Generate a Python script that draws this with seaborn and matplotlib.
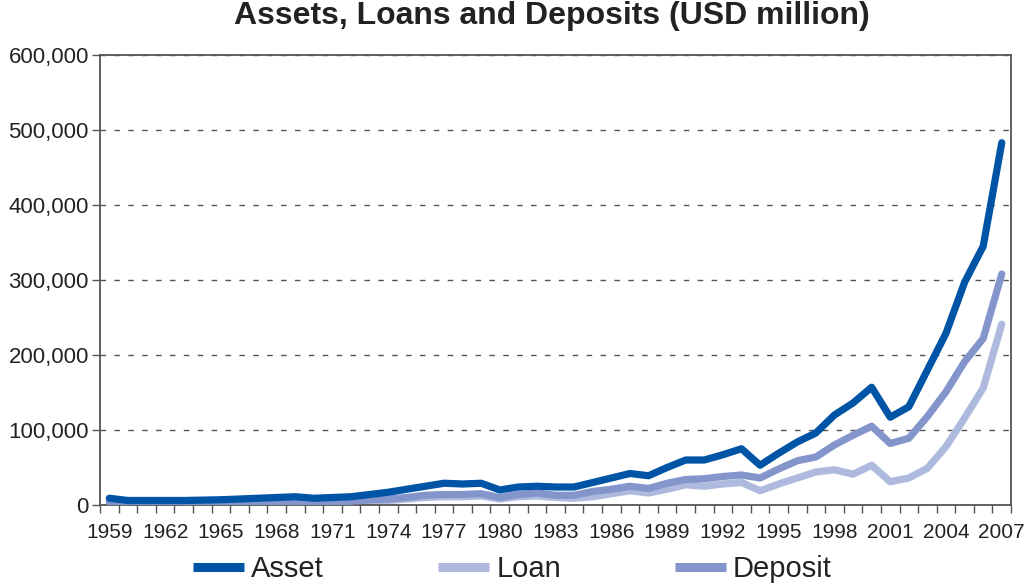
import matplotlib
matplotlib.use("Agg")
import matplotlib.pyplot as plt
import seaborn as sns
import pandas as pd
from matplotlib.ticker import FuncFormatter, FixedLocator

years = list(range(1959, 2008))

asset = [9000, 6000, 6000, 6000, 6000, 6500, 7000, 8000, 9000, 10000,
         11000, 9000, 10000, 11000, 14000, 17000, 21000, 25000, 29000, 28000,
         29000, 20000, 24000, 25000, 24000, 24000, 30000, 36000, 42000, 39000,
         50000, 60000, 60000, 67000, 75000, 53000, 69000, 84000, 96000, 120000,
         136000, 157000, 117000, 131000, 180000, 229000, 297000, 345000, 483000]

loan = [2000, 1000, 1000, 1000, 1000, 1200, 1500, 2000, 2500, 3000,
        3500, 3000, 3500, 4000, 5000, 6000, 8000, 10000, 11000, 11000,
        12000, 8000, 11000, 12000, 10000, 9000, 11000, 15000, 19000, 16000,
        21000, 27000, 25000, 28000, 30000, 19000, 28000, 36000, 44000, 47000,
        41000, 53000, 31000, 36000, 49000, 78000, 116000, 156000, 241000]

deposit = [4000, 2000, 2000, 2000, 2000, 2500, 3000, 3500, 4000, 4500,
           5000, 4500, 4500, 5000, 7000, 8000, 10000, 13000, 14000, 14000,
           15000, 10000, 14000, 16000, 13000, 13000, 18000, 21000, 25000, 22000,
           29000, 34000, 35000, 38000, 40000, 36000, 48000, 59000, 64000, 80000,
           93000, 105000, 82000, 89000, 118000, 151000, 191000, 222000, 308000]

series_names = ["Asset", "Loan", "Deposit"]
colors = {"Asset": "#0054A6", "Loan": "#AEB9DE", "Deposit": "#8395CB"}

df = pd.DataFrame({"Year": years, "Asset": asset, "Loan": loan, "Deposit": deposit})
long_df = df.melt(id_vars="Year", var_name="Series", value_name="USD million")
long_df["pos"] = long_df["Year"] - years[0]

sns.set_theme(style="white")
fonts = ["Liberation Sans", "DejaVu Sans"]
plt.rcParams["font.family"] = fonts

fig = plt.figure(figsize=(10.27, 5.83), dpi=100)
ax = fig.add_axes([0.0974, 0.1338, 0.9845 - 0.0974, 0.9057 - 0.1338])

zorders = {"Asset": 4, "Deposit": 3, "Loan": 2}
for name in ["Loan", "Deposit", "Asset"]:
    sns.lineplot(data=long_df[long_df["Series"] == name], x="pos", y="USD million",
                 color=colors[name], linewidth=5.2, ax=ax, label=name,
                 zorder=zorders[name], legend=False)

ax.set_xlim(-0.5, len(years) - 0.5)
ax.set_ylim(0, 600000)

# year labels every third year, tick marks between categories
ax.xaxis.set_major_locator(FixedLocator(list(range(0, len(years), 3))))
ax.set_xticklabels([str(y) for y in years[::3]])
ax.xaxis.set_minor_locator(FixedLocator([i - 0.5 for i in range(len(years) + 1)]))
ax.tick_params(axis="x", which="major", length=0, pad=13, labelsize=15, colors="#222222")
ax.tick_params(axis="x", which="minor", length=6, width=1, color="#555555", direction="out", bottom=True)

ax.set_yticks(range(0, 600001, 100000))
ax.yaxis.set_major_formatter(FuncFormatter(lambda v, p: f"{int(v):,}"))
ax.tick_params(axis="y", length=6, width=1, color="#555555", direction="out", left=True,
               labelsize=16, colors="#222222", pad=2)

ax.yaxis.grid(True, linestyle=(0, (4, 6)), color="#555555", linewidth=1)
ax.set_axisbelow(True)
for side in ["left", "right", "top", "bottom"]:
    ax.spines[side].set_visible(True)
    ax.spines[side].set_color("#555555")
    ax.spines[side].set_linewidth(1.3)

ax.set_xlabel("")
ax.set_ylabel("")

fig.suptitle("Assets, Loans and Deposits (USD million)", x=0.537, y=0.998,
             fontsize=23, fontweight="bold", color="#222222")

handles = [plt.Line2D([], [], color=colors[n], linewidth=6.5, solid_capstyle="butt")
           for n in series_names]
leg = fig.legend(handles, series_names, loc="lower center", bbox_to_anchor=(0.499, -0.045),
                 ncol=3, frameon=False, fontsize=21, handlelength=1.75,
                 columnspacing=3.9, handletextpad=0.25)
for t in leg.get_texts():
    t.set_color("#222222")

fig.savefig("out.png", dpi=100)
